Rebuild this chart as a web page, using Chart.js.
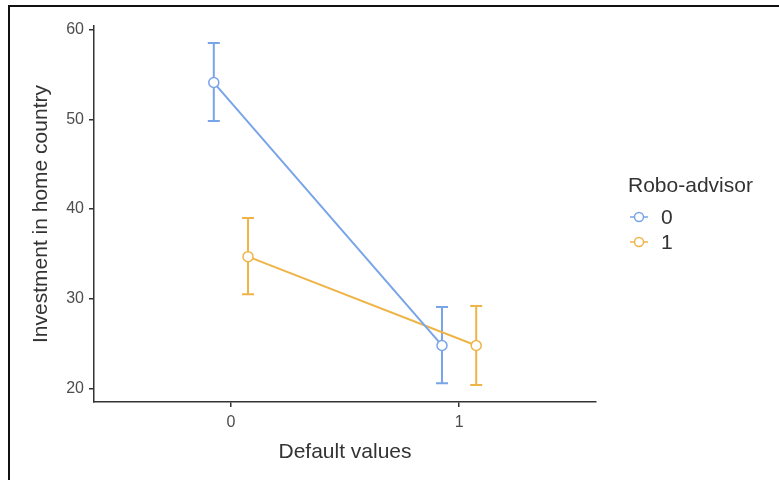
<!DOCTYPE html>
<html>
<head>
<meta charset="utf-8">
<script src="https://cdn.jsdelivr.net/npm/chart.js@4"></script>
<style>
  body { margin: 0; background: #fff; }
  #wrap { position: relative; width: 779px; height: 480px; overflow: hidden; }
  #frame { position: absolute; left: 8px; top: 5px; width: 900px; height: 600px; border-top: 2px solid #111; border-left: 2px solid #111; pointer-events: none; }
  canvas { position: absolute; left: 0; top: 0; }
</style>
</head>
<body>
<div id="wrap">
  <canvas id="chart" width="779" height="480"></canvas>
  <div id="frame"></div>
</div>
<script>
// Default values (x categories) and Robo-advisor groups
const categories = [0, 1];
const groups = ['0', '1'];

// Robo-advisor = 0
const means0 = [54.1, 24.8];
const lower0 = [49.8, 20.6];
const upper0 = [58.5, 29.1];

// Robo-advisor = 1
const means1 = [34.7, 24.8];
const lower1 = [30.5, 20.4];
const upper1 = [39.0, 29.2];

const yTicks = [20, 30, 40, 50, 60];
const xTicks = [0, 1];

const dodge = 0.075;
const colors = ['#78a4e8', '#efb447'];
const font = 'Liberation Sans, Arial, sans-serif';

function points(means, lows, highs, off) {
	return categories.map((c, i) => ({ x: c + off, y: means[i], lo: lows[i], hi: highs[i] }));
}

// error bars under the points
const errorBars = {
	id: 'errorBars',
	beforeDatasetsDraw(chart) {
		const ctx = chart.ctx;
		const xs = chart.scales.x, ys = chart.scales.y;
		chart.data.datasets.forEach(ds => {
			ctx.save();
			ctx.strokeStyle = ds.borderColor;
			ctx.lineWidth = 2;
			ds.data.forEach(p => {
				const x = xs.getPixelForValue(p.x);
				const yl = ys.getPixelForValue(p.lo);
				const yh = ys.getPixelForValue(p.hi);
				ctx.beginPath();
				ctx.moveTo(x, yl); ctx.lineTo(x, yh);
				ctx.moveTo(x - 6, yl); ctx.lineTo(x + 6, yl);
				ctx.moveTo(x - 6, yh); ctx.lineTo(x + 6, yh);
				ctx.stroke();
			});
			ctx.restore();
		});
	}
};

// ggplot-like legend on the right
const sideLegend = {
	id: 'sideLegend',
	afterDraw(chart) {
		const ctx = chart.ctx;
		ctx.save();
		ctx.fillStyle = '#333';
		ctx.font = '21px ' + font;
		ctx.textBaseline = 'middle';
		ctx.fillText('Robo-advisor', 628, 186);
		groups.forEach((g, i) => {
			const y = 217 + i * 25;
			ctx.strokeStyle = colors[i];
			ctx.lineWidth = 1.5;
			ctx.beginPath();
			ctx.moveTo(630, y); ctx.lineTo(648, y);
			ctx.stroke();
			ctx.beginPath();
			ctx.arc(639, y, 4.5, 0, Math.PI * 2);
			ctx.fillStyle = '#fff';
			ctx.fill();
			ctx.stroke();
			ctx.fillStyle = '#333';
			ctx.font = '21px ' + font;
			ctx.fillText(g, 661, y + 1);
		});
		ctx.restore();
	}
};

new Chart(
	document.getElementById('chart'),
	{
		type: 'scatter',
		data: {
			datasets: [
				{
					label: groups[0],
					data: points(means0, lower0, upper0, -dodge),
					showLine: true,
					borderColor: colors[0],
					borderWidth: 2,
					pointBackgroundColor: '#fff',
					pointBorderColor: colors[0],
					pointBorderWidth: 1.5,
					pointRadius: 5,
				},
				{
					label: groups[1],
					data: points(means1, lower1, upper1, dodge),
					showLine: true,
					borderColor: colors[1],
					borderWidth: 2,
					pointBackgroundColor: '#fff',
					pointBorderColor: colors[1],
					pointBorderWidth: 1.5,
					pointRadius: 5,
				}
			]
		},
		options: {
			responsive: false,
			animation: false,
			layout: { padding: { left: 0, right: 183, top: 26, bottom: 0 } },
			plugins: { legend: { display: false }, tooltip: { enabled: false } },
			scales: {
				x: {
					type: 'linear',
					min: -0.6,
					max: 1.6,
					afterBuildTicks: s => { s.ticks = xTicks.map(v => ({ value: v })); },
					afterFit: s => { s.height = 78; },
					grid: { drawOnChartArea: false, drawTicks: true, tickLength: 5, color: '#333', lineWidth: 1.5 },
					border: { display: true, color: '#333', width: 1.5 },
					ticks: { color: '#4d4d4d', font: { family: font, size: 16 }, padding: 6 },
					title: { display: true, text: 'Default values', color: '#333', font: { family: font, size: 21 }, padding: { top: 4, bottom: 15 } }
				},
				y: {
					min: 18.5,
					max: 60.4,
					afterBuildTicks: s => { s.ticks = yTicks.map(v => ({ value: v })); },
					afterFit: s => { s.width = 94; },
					grid: { drawOnChartArea: false, drawTicks: true, tickLength: 5, color: '#333', lineWidth: 1.5 },
					border: { display: true, color: '#333', width: 1.5 },
					ticks: { color: '#4d4d4d', font: { family: font, size: 16 }, padding: 5 },
					title: { display: true, text: 'Investment in home country', color: '#333', font: { family: font, size: 21 }, padding: { top: 29, bottom: 4 } }
				}
			}
		},
		plugins: [errorBars, sideLegend]
	}
);
</script>
</body>
</html>
